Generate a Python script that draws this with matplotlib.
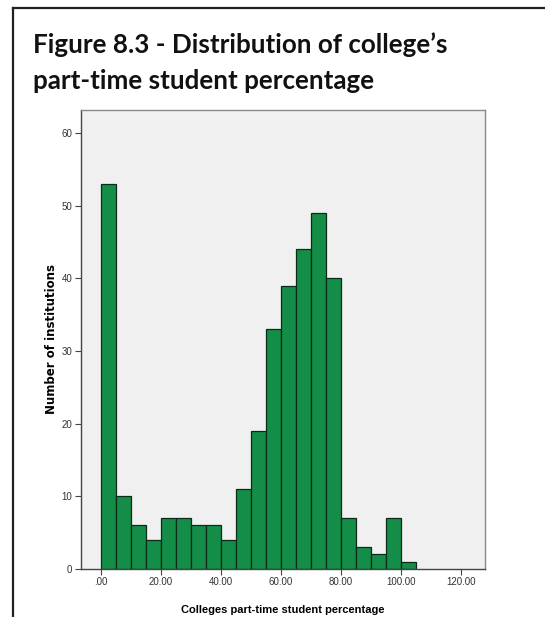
import numpy as np
import matplotlib.pyplot as plt
from matplotlib.lines import Line2D

# histogram of part-time percentage, bins of width 5
bin_edges = [0, 5, 10, 15, 20, 25, 30, 35, 40, 45, 50, 55, 60, 65, 70, 75, 80, 85, 90, 95, 100, 105]
counts = [53, 10, 6, 4, 7, 7, 6, 6, 4, 11, 19, 33, 39, 44, 49, 40, 7, 3, 2, 7, 1]
x_ticks = [0, 20, 40, 60, 80, 100, 120]
x_tick_labels = ['.00', '20.00', '40.00', '60.00', '80.00', '100.00', '120.00']
y_ticks = [0, 10, 20, 30, 40, 50, 60]

title_lines = ["Figure 8.3 - Distribution of college\u2019s", "part-time student percentage"]

W, H = 545, 617
fig = plt.figure(figsize=(W / 100, H / 100), dpi=100)

# outer frame (only top and left edges are inside the picture)
fig.add_artist(Line2D([13 / W, 1.0], [1 - 8 / H, 1 - 8 / H], color='#222222', lw=1.6))
fig.add_artist(Line2D([13 / W, 13 / W], [1 - 8 / H, 0.0], color='#222222', lw=1.6))

for i, line in enumerate(title_lines):
    fig.text(33 / W, 1 - (53 + 36 * i) / H, line, fontsize=18.7, fontweight='bold',
             family=['Lato', 'DejaVu Sans'], va='baseline', ha='left', color='#111111')

ax = fig.add_axes([80.5 / W, 48 / H, 404.5 / W, 459 / H])
ax.set_facecolor('#f0f0f0')
widths = np.diff(bin_edges)
ax.bar(bin_edges[:-1], counts, width=widths, align='edge', color='#138d47',
       edgecolor='#0b2a17', linewidth=0.9)

ax.set_xlim(-6.7, 128)
ax.set_ylim(0, 63.2)
ax.set_xticks(x_ticks)
ax.set_xticklabels(x_tick_labels)
ax.set_yticks(y_ticks)

for lab in ax.get_xticklabels() + ax.get_yticklabels():
    lab.set_family(['Liberation Sans', 'DejaVu Sans'])
    lab.set_fontsize(7)
    lab.set_color('#333333')
ax.tick_params(direction='out', length=4, width=0.8, color='#444444', pad=2)

for side in ['top', 'right']:
    ax.spines[side].set_color('#8a8a8a')
    ax.spines[side].set_linewidth(1.0)
for side in ['left', 'bottom']:
    ax.spines[side].set_color('#444444')
    ax.spines[side].set_linewidth(1.0)

ax.set_ylabel('Number of institutions', fontsize=8.5, fontweight='bold',
              family=['DejaVu Sans'])
ax.yaxis.set_label_coords(-0.056, 0.5)
ax.set_xlabel('Colleges part-time student percentage', fontsize=8, fontweight='bold',
              family=['Liberation Sans', 'DejaVu Sans'], labelpad=13)

fig.savefig('out.png', dpi=100)
